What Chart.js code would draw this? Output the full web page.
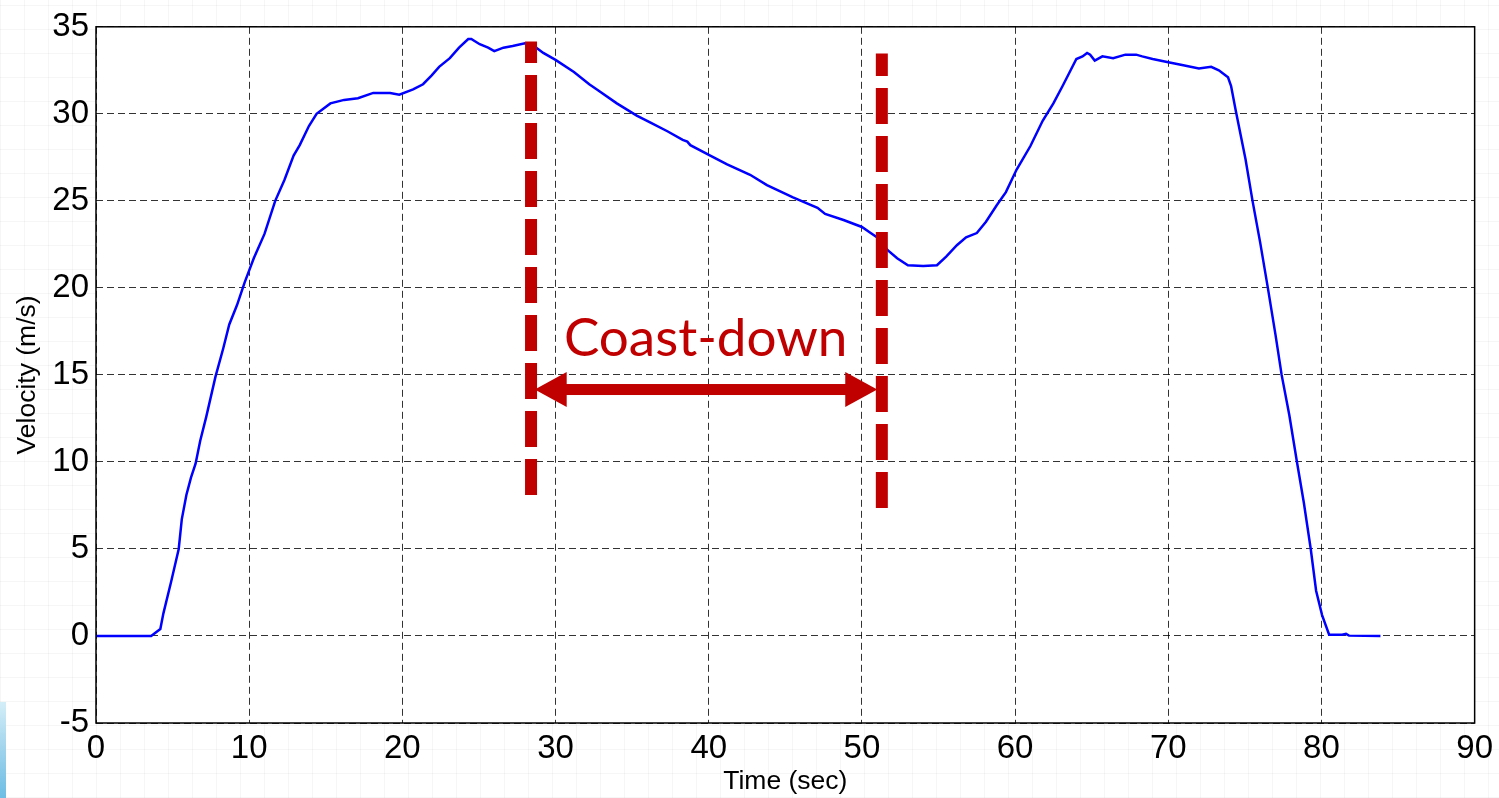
<!DOCTYPE html>
<html>
<head>
<meta charset="utf-8">
<title>Velocity vs. Time – Coast-down</title>
<script src="https://cdn.jsdelivr.net/npm/chart.js@4.4.1/dist/chart.umd.min.js"></script>
<style>
  html, body { margin: 0; padding: 0; }
  body {
    width: 1499px; height: 798px; overflow: hidden; position: relative;
    background-color: #ffffff;
    background-image:
      repeating-linear-gradient(90deg, rgba(0,0,0,0.035) 0 1px, transparent 1px 24px),
      repeating-linear-gradient(0deg, rgba(0,0,0,0.035) 0 1px, transparent 1px 24px);
  }
  #corner {
    position: absolute; left: 0; top: 702px; width: 6px; height: 96px;
    background: linear-gradient(180deg, #d4eef8 0%, #9fd3ec 50%, #6cbde4 100%);
  }
  #wrap { position: absolute; left: 0; top: 0; width: 1499px; height: 798px; }
</style>
</head>
<body>
<div id="corner"></div>
<div id="wrap"><canvas id="chart" width="1499" height="798"></canvas></div>
<script>
// Measured drive cycle: time in seconds, vehicle speed in m/s
const timeSec = [
  0, 3.6, 4.2, 4.4, 4.9, 5.4, 5.6, 5.9, 6.2, 6.5, 6.8, 7.2, 7.8, 8.3, 8.7, 9.2, 9.7,
  10.3, 11.0, 11.7, 12.3, 12.9, 13.3, 13.9, 14.4, 15.3, 16.2, 17.1, 18.1, 19.2, 19.8,
  20.7, 21.35, 21.9, 22.4, 23.1, 23.7, 24.3, 24.5, 25.05, 25.6, 26.0, 26.6, 27.2, 28.0,
  28.5, 29.2, 30.0, 31.2, 32.2, 32.7, 34.0, 35.3, 36.2, 37.3, 38.3, 38.6, 38.8, 40.1,
  41.2, 42.7, 43.8, 45.5, 47.1, 47.6, 48.8, 50.0, 50.5, 51.0, 51.7, 52.3, 53.0, 54.0,
  54.9, 55.5, 56.2, 56.8, 57.5, 58.1, 58.8, 59.4, 60.1, 61.0, 61.8, 62.5, 63.1, 64.0,
  64.4, 64.7, 64.9, 65.2, 65.7, 66.4, 67.2, 67.9, 68.3, 68.98, 70.0, 70.9, 72.0, 72.8,
  73.3, 73.9, 74.1, 74.4, 75.04, 75.5, 76.0, 76.5, 77.0, 77.4, 77.9, 78.4, 78.85, 79.3,
  79.65, 80.04, 80.5, 81.35, 81.6, 81.8, 83.85
];
const velocity = [
  0, 0, 0.4, 1.3, 3.1, 5.0, 6.7, 8.1, 9.1, 9.9, 11.2, 12.6, 14.9, 16.5, 17.9, 19.0, 20.3,
  21.7, 23.1, 25.0, 26.2, 27.6, 28.2, 29.3, 30.0, 30.6, 30.8, 30.9, 31.2, 31.2, 31.1,
  31.4, 31.7, 32.2, 32.7, 33.2, 33.8, 34.3, 34.3, 34.0, 33.8, 33.6, 33.8, 33.9, 34.06,
  33.96, 33.5, 33.1, 32.4, 31.7, 31.4, 30.6, 29.9, 29.5, 29.0, 28.5, 28.4, 28.2, 27.6,
  27.1, 26.5, 25.9, 25.2, 24.6, 24.25, 23.9, 23.5, 23.2, 22.9, 22.15, 21.7, 21.3, 21.26,
  21.3, 21.8, 22.45, 22.9, 23.15, 23.8, 24.75, 25.5, 26.8, 28.15, 29.6, 30.6, 31.6, 33.15,
  33.3, 33.5, 33.4, 33.06, 33.3, 33.2, 33.4, 33.4, 33.3, 33.15, 32.96, 32.8, 32.6, 32.7,
  32.5, 32.1, 31.6, 30.2, 27.4, 25.0, 22.6, 20.0, 17.3, 15.0, 12.7, 10.0, 7.65, 5.0,
  2.6, 1.2, 0.07, 0.07, 0.12, 0.02, 0
];

// Axis ranges and tick spacing
const xRange = [0, 90];
const xStep = 10;
const yRange = [-5, 35];
const yStep = 5;

// Coast-down phase markers (in axis units)
const coastStartTime = 28.4;
const coastEndTime = 51.3;
const markerTop = [34.15, 33.47];
const markerBottom = [8.1, 7.35];
const arrowLevel = 14.16;
const arrowEnds = [28.64, 51.0];
const coastLabel = 'Coast-down';
const coastLabelAt = [39.8, 16.1];

const RED = '#c00000';

// White plotting area
const plotBackground = {
  id: 'plotBackground',
  beforeDraw(chart) {
    const { ctx, chartArea: a } = chart;
    ctx.save();
    ctx.fillStyle = '#ffffff';
    ctx.fillRect(a.left, a.top, a.right - a.left, a.bottom - a.top);
    ctx.restore();
  }
};

// Frame round the plotting area and the coast-down annotation
const coastDownOverlay = {
  id: 'coastDownOverlay',
  afterDraw(chart) {
    const { ctx, chartArea: a, scales: { x, y } } = chart;
    ctx.save();

    // box
    ctx.strokeStyle = '#000000';
    ctx.lineWidth = 1.5;
    ctx.setLineDash([]);
    ctx.strokeRect(a.left, a.top, a.right - a.left, a.bottom - a.top);

    // dashed vertical markers, dash pattern laid out from the bottom end
    ctx.strokeStyle = RED;
    ctx.lineWidth = 12;
    ctx.lineCap = 'butt';
    ctx.setLineDash([36, 12]);
    [coastStartTime, coastEndTime].forEach((t, i) => {
      const px = x.getPixelForValue(t);
      ctx.beginPath();
      ctx.moveTo(px, y.getPixelForValue(markerBottom[i]));
      ctx.lineTo(px, y.getPixelForValue(markerTop[i]));
      ctx.stroke();
    });
    ctx.setLineDash([]);

    // double-headed arrow
    const ay = y.getPixelForValue(arrowLevel);
    const x1 = x.getPixelForValue(arrowEnds[0]);
    const x2 = x.getPixelForValue(arrowEnds[1]);
    const headLen = 32, headHalf = 17.5, shaft = 11;
    ctx.fillStyle = RED;
    ctx.fillRect(x1 + headLen - 1, ay - shaft / 2, (x2 - headLen + 1) - (x1 + headLen - 1), shaft);
    ctx.beginPath();
    ctx.moveTo(x1, ay);
    ctx.lineTo(x1 + headLen, ay - headHalf);
    ctx.lineTo(x1 + headLen, ay + headHalf);
    ctx.closePath();
    ctx.fill();
    ctx.beginPath();
    ctx.moveTo(x2, ay);
    ctx.lineTo(x2 - headLen, ay - headHalf);
    ctx.lineTo(x2 - headLen, ay + headHalf);
    ctx.closePath();
    ctx.fill();

    // label
    ctx.font = '53px Lato, "Open Sans", sans-serif';
    ctx.textAlign = 'center';
    ctx.textBaseline = 'alphabetic';
    ctx.fillText(coastLabel, x.getPixelForValue(coastLabelAt[0]), y.getPixelForValue(coastLabelAt[1]));

    ctx.restore();
  }
};

function build() {
  const points = timeSec.map((t, i) => ({ x: t, y: velocity[i] }));
  const tickFont = { family: '"Liberation Sans", Arial, sans-serif', size: 33 };
  const titleFont = { family: '"Liberation Sans", Arial, sans-serif', size: 26.5 };
  const gridCommon = { color: 'rgba(0,0,0,0.8)', lineWidth: 1, drawTicks: false };

  new Chart(document.getElementById('chart'), {
    type: 'scatter',
    data: {
      datasets: [{
        data: points,
        showLine: true,
        borderColor: '#0000ff',
        borderWidth: 2.5,
        pointRadius: 0,
        pointHoverRadius: 0,
        tension: 0,
        fill: false
      }]
    },
    options: {
      responsive: false,
      animation: false,
      events: [],
      layout: { padding: { left: 0, top: 25, right: 23, bottom: 0 } },
      plugins: { legend: { display: false }, tooltip: { enabled: false } },
      scales: {
        x: {
          type: 'linear',
          min: xRange[0], max: xRange[1],
          ticks: { stepSize: xStep, color: '#000', font: tickFont, padding: 6, maxRotation: 0 },
          grid: gridCommon,
          border: { display: false, dash: [7, 4] },
          title: { display: true, text: 'Time (sec)', color: '#000', font: titleFont, padding: { top: 0, bottom: 0 } },
          afterFit(scale) { scale.height = 75; }
        },
        y: {
          type: 'linear',
          min: yRange[0], max: yRange[1],
          ticks: { stepSize: yStep, color: '#000', font: tickFont, padding: 7 },
          grid: gridCommon,
          border: { display: false, dash: [7, 4] },
          title: { display: true, text: 'Velocity (m/s)', color: '#000', font: titleFont, padding: { top: 12, bottom: 0 } },
          afterFit(scale) { scale.width = 96; }
        }
      }
    },
    plugins: [plotBackground, coastDownOverlay]
  });
}

Promise.all([
  document.fonts.load('53px Lato'),
  document.fonts.load('33px "Liberation Sans"')
]).then(build, build);
</script>
</body>
</html>
